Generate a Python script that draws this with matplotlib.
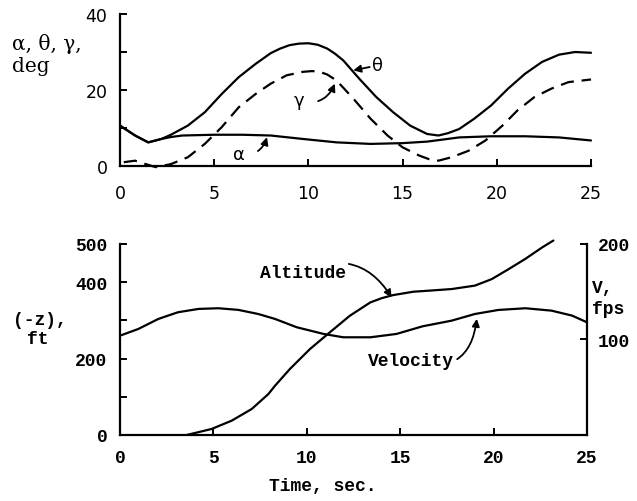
import matplotlib
matplotlib.use("Agg")
import matplotlib.pyplot as plt

# ---------------- data ----------------
theta_t = [0, 0.8, 1.5, 2.2, 2.7, 3.6, 4.5, 5.4, 6.3, 7.2, 8.0, 8.5, 9.0, 9.5, 10.0, 10.5, 11.0, 11.4, 11.85,
           12.7, 13.6, 14.5, 15.4, 16.3, 16.9, 17.4, 18.0, 18.8, 19.7, 20.6, 21.5, 22.4, 23.3, 24.15, 25]
theta_v = [10.6, 8.0, 6.2, 7.1, 8.2, 10.6, 14.1, 18.9, 23.3, 26.8, 29.6, 30.8, 31.7, 32.1, 32.2, 31.8, 30.8, 29.5, 27.7,
           22.9, 18.1, 14.1, 10.6, 8.4, 8.0, 8.6, 9.7, 12.4, 15.9, 20.3, 24.2, 27.3, 29.2, 29.9, 29.7]

alpha_t = [0, 0.8, 1.5, 2.2, 2.7, 3.3, 5.0, 6.5, 8.0, 9.7, 11.5, 13.3, 15.0, 16.3, 18.0,
           19.7, 21.5, 23.3, 25]
alpha_v = [10.6, 8.0, 6.2, 7.1, 7.6, 8.0, 8.2, 8.2, 8.0, 7.1, 6.2, 5.8, 6.0, 6.4, 7.5,
           7.8, 7.8, 7.5, 6.7]

gamma_t = [0.2, 0.8, 1.3, 1.9, 2.7, 3.6, 4.5, 5.4, 6.3, 7.2, 8.0, 8.85, 9.7, 10.2, 10.6, 11.0, 11.5,
           12.4, 13.3, 14.2, 15.0, 15.9, 16.4, 16.9, 17.6, 18.5, 19.4, 20.3, 21.1, 22.0, 22.9, 23.8, 25]
gamma_v = [1.0, 1.4, 0.6, -0.3, 0.5, 2.3, 5.8, 10.2, 15.4, 18.9, 21.6, 23.8, 24.7, 24.9, 24.7, 24.0, 22.4,
           17.6, 12.4, 8.0, 4.9, 2.7, 1.8, 1.4, 2.3, 4.0, 6.7, 10.6, 14.6, 18.1, 20.3, 22.0, 22.7]

alt_t = [3.57, 4.9, 5.98, 7.05, 7.94, 8.3, 9.1, 10.17, 11.24, 12.3, 13.4, 14.0, 14.6, 15.7, 16.6,
         17.75, 19.0, 19.9, 20.8, 21.7, 22.6, 23.2]
alt_v = [0, 15.7, 37.5, 68, 107, 129, 173, 225, 269, 312, 347, 358, 366, 375, 378,
         382, 391, 408, 434, 461, 491, 509]

vel_t = [0, 0.98, 2.05, 3.1, 4.2, 5.26, 6.33, 7.4, 8.3, 9.46, 10.9, 11.95, 13.4, 14.8, 16.2,
         17.75, 19.0, 20.25, 21.7, 23.1, 24.2, 25.0]
vel_v = [104, 111, 121.5, 128.5, 132, 132.7, 131, 126.7, 121.5, 112.8, 105.8, 102.3, 102.3, 105.8, 113.8,
         119.7, 126.7, 130.9, 132.7, 130.2, 125, 118]

x_ticks = [0, 5, 10, 15, 20, 25]
top_yticks = [0, 10, 20, 30, 40]
top_ylabels = ["0", "", "20", "", "40"]
alt_ticks = [0, 100, 200, 300, 400, 500]
alt_labels = ["0", "", "200", "", "400", "500"]
vel_ticks = [0, 100, 200]
vel_labels = ["", "100", "200"]

MONO = "Liberation Mono"
LW = 1.6
line_kw = dict(color="black", lw=LW, clip_on=False, solid_joinstyle="round", solid_capstyle="round")

fig = plt.figure(figsize=(6.37, 5.02), dpi=100)

# ---------------- top panel ----------------
ax1 = fig.add_axes([0.1884, 0.6673, 0.7394, 0.3038])
ax1.plot(theta_t, theta_v, **line_kw)
ax1.plot(alpha_t, alpha_v, **line_kw)
ax1.plot(gamma_t, gamma_v, color="black", lw=LW, dashes=(6, 3.5), clip_on=False)
ax1.set_xlim(0, 25)
ax1.set_ylim(0, 40)
for s in ["top", "right"]:
    ax1.spines[s].set_visible(False)
for s in ["left", "bottom"]:
    ax1.spines[s].set_linewidth(1.6)
ax1.set_xticks(x_ticks)
ax1.set_xticklabels([str(v) for v in x_ticks])
ax1.set_yticks(top_yticks)
ax1.set_yticklabels(top_ylabels)
ax1.tick_params(axis="x", direction="in", length=5, width=1.4, pad=13, labelsize=12.5)
ax1.tick_params(axis="y", direction="in", length=5, width=1.4, pad=9, labelsize=12.5)
for lab in ax1.get_xticklabels() + ax1.get_yticklabels():
    lab.set_family("DejaVu Sans")

fig.text(12 / 637, 1 - 44 / 502, "α, θ, γ,", family="DejaVu Serif", fontsize=14.5, va="center", ha="left")
fig.text(12 / 637, 1 - 66 / 502, "deg", family="DejaVu Serif", fontsize=14.5, va="center", ha="left")

arrow_kw = dict(arrowstyle="-|>", color="black", lw=1.3, mutation_scale=11, shrinkA=0, shrinkB=0)
ax1.annotate("θ", xy=(12.38, 25.1), xytext=(13.4, 26.4), fontsize=13, family="DejaVu Sans",
             ha="left", va="center", arrowprops=dict(arrow_kw, connectionstyle="arc3,rad=0"))
ax1.annotate("γ", xy=(11.4, 21.6), xytext=(9.5, 17.2), fontsize=13, family="DejaVu Sans",
             ha="center", va="center",
             arrowprops=dict(arrow_kw, connectionstyle="arc3,rad=0.45", shrinkA=8))
ax1.annotate("α", xy=(7.8, 7.55), xytext=(6.3, 3.2), fontsize=13, family="DejaVu Sans",
             ha="center", va="center",
             arrowprops=dict(arrow_kw, connectionstyle="arc3,rad=0.45", shrinkA=8))

# ---------------- bottom panel ----------------
ax2 = fig.add_axes([0.1884, 0.1315, 0.7331, 0.3805])
ax2.plot(alt_t, alt_v, **line_kw)
ax2.set_xlim(0, 25)
ax2.set_ylim(0, 500)
ax2.spines["top"].set_visible(False)
ax2.spines["right"].set_visible(False)
for s in ["left", "bottom"]:
    ax2.spines[s].set_linewidth(1.6)
ax2.set_xticks(x_ticks)
ax2.set_xticklabels([str(v) for v in x_ticks])
ax2.set_yticks(alt_ticks)
ax2.set_yticklabels(alt_labels)
ax2.tick_params(axis="x", direction="in", length=5, width=1.4, pad=10, labelsize=13)
ax2.tick_params(axis="y", direction="in", length=5, width=1.4, pad=9, labelsize=13)
for lab in ax2.get_xticklabels() + ax2.get_yticklabels():
    lab.set_family(MONO)
    lab.set_weight("bold")

ax3 = ax2.twinx()
ax3.plot(vel_t, vel_v, **line_kw)
ax3.set_ylim(0, 200)
for s in ["top", "left", "bottom"]:
    ax3.spines[s].set_visible(False)
ax3.spines["right"].set_linewidth(1.6)
ax3.set_yticks(vel_ticks)
ax3.set_yticklabels(vel_labels)
ax3.tick_params(axis="y", direction="in", length=5, width=1.4, pad=8, labelsize=13)
for lab in ax3.get_yticklabels():
    lab.set_family(MONO)
    lab.set_weight("bold")

fig.text(13 / 637, 1 - 321 / 502, "(-z),", family=MONO, weight="bold", fontsize=13, va="center", ha="left")
fig.text(27 / 637, 1 - 340 / 502, "ft", family=MONO, weight="bold", fontsize=13, va="center", ha="left")
fig.text(592 / 637, 1 - 289 / 502, "V,", family=MONO, weight="bold", fontsize=13, va="center", ha="left")
fig.text(592 / 637, 1 - 309 / 502, "fps", family=MONO, weight="bold", fontsize=13, va="center", ha="left")
fig.text(323 / 637, 1 - 487 / 502, "Time, sec.", family=MONO, weight="bold", fontsize=13, va="center", ha="center")

ax2.annotate("Altitude", xy=(14.54, 360), xytext=(9.8, 426), fontsize=13, family=MONO, weight="bold",
             ha="center", va="center",
             arrowprops=dict(arrow_kw, connectionstyle="arc3,rad=-0.45", shrinkA=52))
ax2.annotate("Velocity", xy=(19.1, 304), xytext=(15.6, 194), fontsize=13, family=MONO, weight="bold",
             ha="center", va="center",
             arrowprops=dict(arrow_kw, connectionstyle="arc3,rad=0.6", shrinkA=50))

fig.savefig("out.png", dpi=100)
